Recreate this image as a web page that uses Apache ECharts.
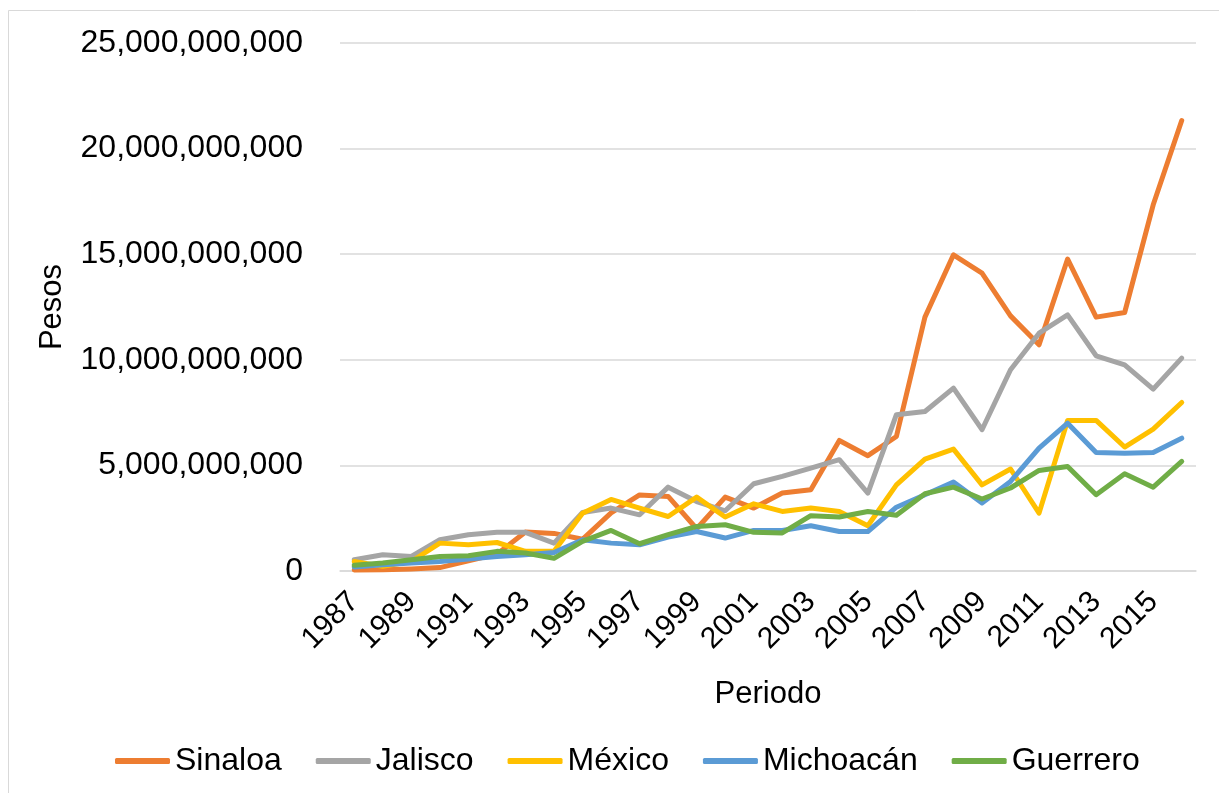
<!DOCTYPE html>
<html>
<head>
<meta charset="utf-8">
<script src="https://cdn.jsdelivr.net/npm/echarts@6/dist/echarts.min.js"></script>
<style>
  html, body { margin: 0; padding: 0; background: #ffffff; }
  #chart { width: 1219px; height: 793px; }
</style>
</head>
<body>
<div id="chart"></div>
<script>
const years = ['1987','1988','1989','1990','1991','1992','1993','1994','1995','1996',
  '1997','1998','1999','2000','2001','2002','2003','2004','2005','2006',
  '2007','2008','2009','2010','2011','2012','2013','2014','2015','2016'];

const sinaloa = [0.05e9, 0.06e9, 0.10e9, 0.16e9, 0.48e9, 0.80e9, 1.85e9, 1.78e9, 1.50e9, 2.75e9,
  3.60e9, 3.53e9, 2.00e9, 3.50e9, 2.98e9, 3.69e9, 3.85e9, 6.18e9, 5.46e9, 6.37e9,
  12.02e9, 14.97e9, 14.10e9, 12.08e9, 10.71e9, 14.77e9, 12.02e9, 12.24e9, 17.34e9, 21.33e9];

const jalisco = [0.53e9, 0.77e9, 0.69e9, 1.48e9, 1.72e9, 1.83e9, 1.83e9, 1.32e9, 2.77e9, 2.98e9,
  2.66e9, 3.97e9, 3.29e9, 2.85e9, 4.13e9, 4.48e9, 4.87e9, 5.27e9, 3.69e9, 7.40e9,
  7.55e9, 8.66e9, 6.69e9, 9.53e9, 11.26e9, 12.13e9, 10.19e9, 9.76e9, 8.61e9, 10.08e9];

const mexico = [0.45e9, 0.22e9, 0.45e9, 1.32e9, 1.24e9, 1.35e9, 0.93e9, 0.93e9, 2.74e9, 3.39e9,
  2.98e9, 2.58e9, 3.50e9, 2.56e9, 3.18e9, 2.82e9, 2.98e9, 2.82e9, 2.14e9, 4.08e9,
  5.30e9, 5.77e9, 4.08e9, 4.83e9, 2.74e9, 7.13e9, 7.13e9, 5.87e9, 6.72e9, 7.98e9];

const michoacan = [0.19e9, 0.30e9, 0.38e9, 0.45e9, 0.57e9, 0.69e9, 0.77e9, 0.88e9, 1.48e9, 1.32e9,
  1.24e9, 1.61e9, 1.87e9, 1.56e9, 1.92e9, 1.92e9, 2.14e9, 1.87e9, 1.87e9, 3.02e9,
  3.61e9, 4.21e9, 3.22e9, 4.24e9, 5.82e9, 7.00e9, 5.61e9, 5.58e9, 5.61e9, 6.29e9];

const guerrero = [0.27e9, 0.38e9, 0.53e9, 0.69e9, 0.72e9, 0.93e9, 0.85e9, 0.60e9, 1.40e9, 1.92e9,
  1.29e9, 1.72e9, 2.11e9, 2.19e9, 1.83e9, 1.80e9, 2.62e9, 2.56e9, 2.82e9, 2.64e9,
  3.66e9, 3.97e9, 3.41e9, 3.93e9, 4.76e9, 4.95e9, 3.61e9, 4.60e9, 3.97e9, 5.19e9];

const seriesNames = ['Sinaloa', 'Jalisco', 'México', 'Michoacán', 'Guerrero'];
const seriesColors = ['#ED7D31', '#A5A5A5', '#FFC000', '#5B9BD5', '#70AD47'];
const seriesData = [sinaloa, jalisco, mexico, michoacan, guerrero];

const yTicks = { min: 0, max: 25000000000, interval: 5000000000 };
const axisTitles = { x: 'Periodo', y: 'Pesos' };

const FONT = '"Liberation Sans", Arial, sans-serif';

const chart = echarts.init(document.getElementById('chart'));

const option = {
  backgroundColor: '#ffffff',
  animation: false,
  textStyle: { fontFamily: FONT, color: '#000000' },
  graphic: [
    { type: 'line', shape: { x1: 8.5, y1: 10.5, x2: 1219, y2: 10.5 }, style: { stroke: '#d9d9d9', lineWidth: 1 } },
    { type: 'line', shape: { x1: 8.5, y1: 10.5, x2: 8.5, y2: 793 }, style: { stroke: '#d9d9d9', lineWidth: 1 } }
  ],
  grid: { left: 340, right: 23, top: 43, bottom: 222, containLabel: false },
  legend: {
    data: seriesNames,
    left: 110,
    top: 740,
    icon: 'roundRect',
    itemWidth: 55,
    itemHeight: 6,
    itemGap: 34,
    textStyle: { fontFamily: FONT, fontSize: 32, color: '#000000' }
  },
  xAxis: {
    type: 'category',
    data: years,
    boundaryGap: true,
    name: axisTitles.x,
    nameLocation: 'middle',
    nameGap: 108,
    nameTextStyle: { fontFamily: FONT, fontSize: 31, color: '#000000' },
    axisLine: { lineStyle: { color: '#d9d9d9', width: 1.5 } },
    axisTick: { show: false },
    axisLabel: {
      interval: 1,
      rotate: 45,
      margin: 26,
      fontFamily: FONT,
      fontSize: 30,
      color: '#000000'
    },
    splitLine: { show: false }
  },
  yAxis: {
    type: 'value',
    min: yTicks.min,
    max: yTicks.max,
    interval: yTicks.interval,
    name: axisTitles.y,
    nameLocation: 'middle',
    nameGap: 272,
    nameRotate: 90,
    nameTextStyle: { fontFamily: FONT, fontSize: 31, color: '#000000' },
    axisLine: { show: false },
    axisTick: { show: false },
    axisLabel: {
      margin: 37,
      fontFamily: FONT,
      fontSize: 32,
      color: '#000000',
      formatter: function (v) { return v.toLocaleString('en-US'); }
    },
    splitLine: { lineStyle: { color: '#d9d9d9', width: 1.5 } }
  },
  series: seriesNames.map(function (name, i) {
    return {
      name: name,
      type: 'line',
      data: seriesData[i],
      symbol: 'none',
      smooth: false,
      color: seriesColors[i],
      lineStyle: { color: seriesColors[i], width: 5, cap: 'round', join: 'round' },
      itemStyle: { color: seriesColors[i] }
    };
  })
};

chart.setOption(option);
</script>
</body>
</html>
